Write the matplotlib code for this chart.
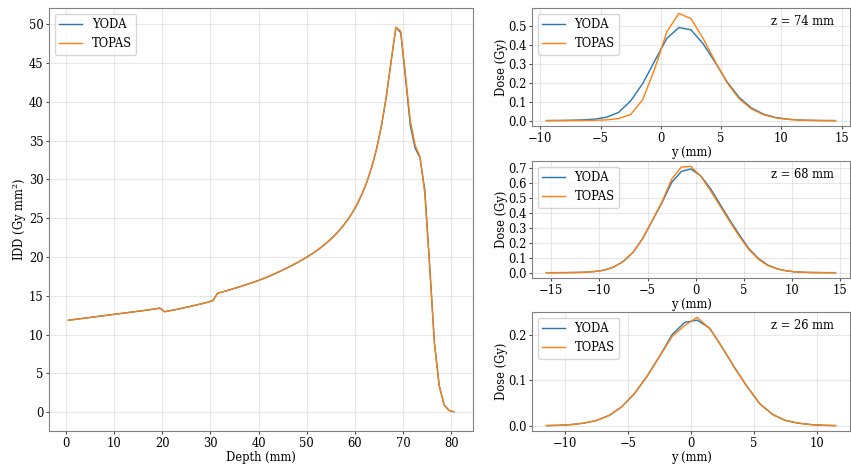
import numpy as np
import matplotlib
matplotlib.use('Agg')
import matplotlib.pyplot as plt
from matplotlib.ticker import MultipleLocator

plt.rcParams['font.family'] = ['DejaVu Serif']
plt.rcParams['mathtext.fontset'] = 'dejavuserif'
plt.rcParams['font.size'] = 8.3

# integrated depth dose, 1 mm bins (0.5 ... 80.5 mm)
depth = np.arange(0.5, 81, 1.0)
idd_topas = [11.85, 11.93, 12.01, 12.09, 12.17, 12.25, 12.33, 12.41, 12.49, 12.57,
             12.65, 12.73, 12.81, 12.89, 12.97, 13.05, 13.13, 13.22, 13.31, 13.42,
             12.95, 13.07, 13.19, 13.32, 13.45, 13.59, 13.73, 13.88, 14.03, 14.19,
             14.38, 15.33, 15.50, 15.68, 15.86, 16.05, 16.25, 16.45, 16.66, 16.87,
             17.10, 17.35, 17.60, 17.88, 18.17, 18.47, 18.78, 19.10, 19.44, 19.80,
             20.18, 20.58, 21.02, 21.50, 22.02, 22.60, 23.25, 23.98, 24.80, 25.75,
             26.85, 28.15, 29.70, 31.60, 33.95, 36.90, 40.60, 45.20, 49.60, 49.10,
             43.40, 37.50, 34.40, 32.90, 28.20, 18.80, 8.80, 3.40, 0.95, 0.25,
             0.06]
idd_yoda = [11.85, 11.93, 12.01, 12.09, 12.17, 12.25, 12.33, 12.41, 12.49, 12.57,
            12.65, 12.73, 12.81, 12.89, 12.97, 13.05, 13.13, 13.22, 13.31, 13.42,
            12.95, 13.07, 13.19, 13.32, 13.45, 13.59, 13.73, 13.88, 14.03, 14.19,
            14.38, 15.33, 15.50, 15.68, 15.86, 16.05, 16.25, 16.45, 16.66, 16.87,
            17.10, 17.35, 17.60, 17.88, 18.17, 18.47, 18.78, 19.10, 19.44, 19.80,
            20.18, 20.58, 21.02, 21.50, 22.02, 22.60, 23.25, 23.98, 24.80, 25.75,
            26.85, 28.15, 29.70, 31.60, 33.95, 36.90, 40.60, 45.20, 49.60, 48.90,
            43.00, 36.90, 34.00, 32.80, 28.60, 19.00, 8.90, 3.40, 0.95, 0.25,
            0.06]

# lateral profiles
y74 = np.arange(-9.5, 15, 1.0)
yoda74 = [0.0005, 0.001, 0.002, 0.004, 0.008, 0.018, 0.044, 0.105, 0.197, 0.317,
          0.436, 0.493, 0.481, 0.408, 0.310, 0.205, 0.123, 0.068, 0.035, 0.017,
          0.008, 0.003, 0.0015, 0.0006, 0.0002]
topas74 = [0.0, 0.0002, 0.0005, 0.001, 0.002, 0.004, 0.011, 0.033, 0.112, 0.276,
           0.471, 0.568, 0.540, 0.436, 0.315, 0.200, 0.116, 0.063, 0.032, 0.015,
           0.007, 0.003, 0.0012, 0.0005, 0.0002]

y68 = np.arange(-15.5, 15, 1.0)
yoda68 = [0.0, 0.0003, 0.0007, 0.0015, 0.003, 0.008, 0.017, 0.038, 0.077, 0.137,
          0.230, 0.350, 0.470, 0.605, 0.678, 0.694, 0.649, 0.565, 0.460, 0.355,
          0.255, 0.162, 0.095, 0.050, 0.025, 0.011, 0.005, 0.002, 0.001, 0.0004,
          0.0002]
topas68 = [0.0, 0.0003, 0.0007, 0.0015, 0.003, 0.008, 0.017, 0.038, 0.077, 0.137,
           0.230, 0.352, 0.475, 0.627, 0.707, 0.712, 0.647, 0.552, 0.448, 0.345,
           0.245, 0.155, 0.090, 0.047, 0.024, 0.011, 0.005, 0.002, 0.001, 0.0004,
           0.0002]

y26 = np.arange(-11.5, 12, 1.0)
yoda26 = [0.0005, 0.0012, 0.0028, 0.006, 0.012, 0.023, 0.042, 0.071, 0.109, 0.153,
          0.201, 0.228, 0.233, 0.215, 0.172, 0.127, 0.085, 0.048, 0.025, 0.012,
          0.006, 0.0028, 0.0012, 0.0005]
topas26 = [0.0005, 0.0012, 0.0028, 0.006, 0.012, 0.023, 0.042, 0.071, 0.109, 0.153,
           0.197, 0.221, 0.239, 0.214, 0.172, 0.127, 0.085, 0.048, 0.025, 0.012,
           0.006, 0.0028, 0.0012, 0.0005]

profiles = [(y74, yoda74, topas74, 'z = 74 mm'),
            (y68, yoda68, topas68, 'z = 68 mm'),
            (y26, yoda26, topas26, 'z = 26 mm')]

lw = 1.0


def style(ax):
    ax.grid(True, alpha=0.3)
    for s in ax.spines.values():
        s.set_color('0.5')
    ax.tick_params(length=2.5, pad=1.5, color='0.3')


fig = plt.figure(figsize=(8.51, 4.66), dpi=100)

ax = fig.add_axes([0.0576, 0.0751, 0.4982, 0.9077])
ax.plot(depth, idd_yoda, color='C0', lw=lw, label='YODA')
ax.plot(depth, idd_topas, color='C1', lw=lw, label='TOPAS')
ax.set_xlabel('Depth (mm)', labelpad=1)
ax.set_ylabel('IDD (Gy mm$^2$)', labelpad=0)
ax.set_yticks(range(0, 51, 5))
ax.legend(loc='upper left')
style(ax)

bottoms = [0.7296, 0.4034, 0.0751]
heights = [0.2532, 0.2511, 0.2554]
for (y, yoda, topas, lab), b, h in zip(profiles, bottoms, heights):
    ax = fig.add_axes([0.6251, b, 0.3737, h])
    ax.plot(y, yoda, color='C0', lw=lw, label='YODA')
    ax.plot(y, topas, color='C1', lw=lw, label='TOPAS')
    ax.set_xlabel('y (mm)', labelpad=1)
    ax.set_ylabel('Dose (Gy)', labelpad=0)
    ax.yaxis.set_major_locator(MultipleLocator(0.1))
    ax.text(0.95, 0.94, lab, transform=ax.transAxes, ha='right', va='top')
    ax.legend(loc='upper left')
    style(ax)

plt.savefig('out.png', dpi=100)
